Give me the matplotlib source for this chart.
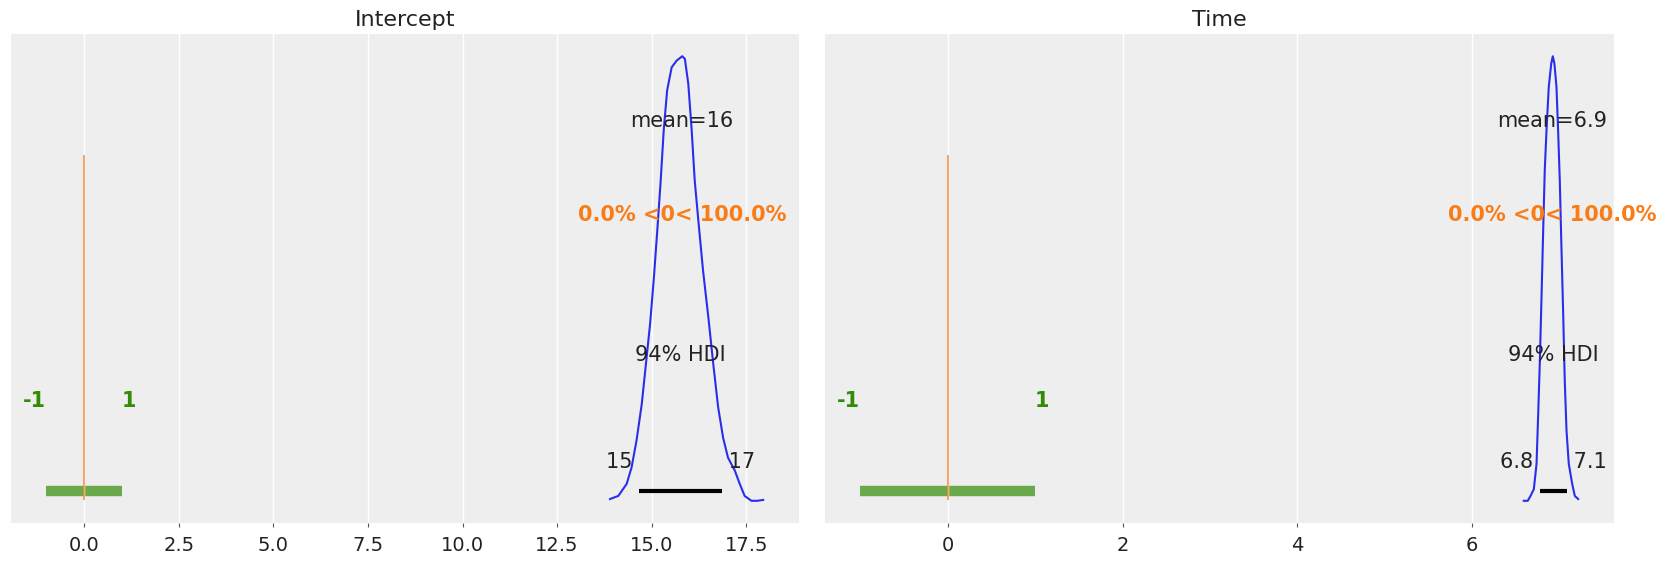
import matplotlib
matplotlib.use("Agg")
import matplotlib.pyplot as plt
import numpy as np

# posterior KDE (x value, density)
intercept_x = [13.90, 14.12, 14.34, 14.47, 14.60, 14.74, 14.85, 14.96, 15.06, 15.15,
               15.24, 15.32, 15.41, 15.53, 15.66, 15.81, 15.88, 15.97, 16.06, 16.14,
               16.26, 16.36, 16.50, 16.63, 16.76, 16.89, 17.02, 17.20, 17.33, 17.46,
               17.64, 17.80, 17.95]
intercept_rel = [0.004, 0.011, 0.038, 0.075, 0.135, 0.218, 0.308, 0.398, 0.502, 0.608,
                 0.720, 0.833, 0.923, 0.975, 0.990, 1.000, 0.994, 0.938, 0.833, 0.720,
                 0.608, 0.518, 0.413, 0.308, 0.210, 0.142, 0.097, 0.068, 0.038, 0.011,
                 0.000, 0.000, 0.002]
intercept_peak = 0.72

time_x = [6.591, 6.637, 6.668, 6.706, 6.737, 6.756, 6.774, 6.794, 6.813, 6.831,
          6.851, 6.877, 6.905, 6.923, 6.942, 6.965, 6.984, 7.003, 7.022, 7.042,
          7.060, 7.080, 7.106, 7.145, 7.175, 7.213]
time_rel = [0.000, 0.000, 0.011, 0.026, 0.083, 0.195, 0.308, 0.458, 0.608, 0.743,
            0.833, 0.931, 0.983, 1.000, 0.983, 0.931, 0.833, 0.720, 0.570, 0.420,
            0.270, 0.158, 0.083, 0.038, 0.011, 0.004]
time_peak = 4.8

titles = ["Intercept", "Time"]
means = [15.8, 6.92]
mean_labels = ["mean=16", "mean=6.9"]
hdi_low = [14.67, 6.774]
hdi_high = [16.87, 7.080]
hdi_labels = [("15", "17"), ("6.8", "7.1")]
ref_val = 0
ref_text = "0.0% <0< 100.0%"
rope = (-1, 1)
xticks = [[0.0, 2.5, 5.0, 7.5, 10.0, 12.5, 15.0, 17.5], [0, 2, 4, 6]]
xticklabels = [["0.0", "2.5", "5.0", "7.5", "10.0", "12.5", "15.0", "17.5"],
               ["0", "2", "4", "6"]]

blue = "#2a2eec"
orange = "#fa7c17"
green = "#328c06"
text_color = "#222222"
lw = 1.5
label_size = 15

fig = plt.figure(figsize=(16.66, 5.63), dpi=100)
positions = [[0.0064, 0.071, 0.4732, 0.8686], [0.4949, 0.071, 0.4739, 0.8686]]

curves = [(intercept_x, np.array(intercept_rel) * intercept_peak),
          (time_x, np.array(time_rel) * time_peak)]

for i, pos in enumerate(positions):
    ax = fig.add_axes(pos)
    ax.set_facecolor("#eeeeee")
    for s in ax.spines.values():
        s.set_visible(False)
    xs, ys = curves[i]
    ax.plot(xs, ys, color=blue, lw=lw)
    H = ax.get_ylim()[1]

    # hdi
    ax.plot([hdi_low[i], hdi_high[i]], [H * 0.02, H * 0.02], lw=lw * 2, color="k",
            solid_capstyle="butt")
    ax.text(hdi_low[i], H * 0.07, hdi_labels[i][0] + " ", size=label_size, ha="right",
            color=text_color)
    ax.text(hdi_high[i], H * 0.07, " " + hdi_labels[i][1], size=label_size, ha="left",
            color=text_color)
    ax.text((hdi_low[i] + hdi_high[i]) / 2, H * 0.3, "94% HDI", size=label_size,
            ha="center", color=text_color)

    # point estimate
    ax.text(means[i], H * 0.8, mean_labels[i], size=label_size, ha="center",
            color=text_color)

    # reference value
    ax.axvline(ref_val, ymin=0.05, ymax=0.75, lw=lw, alpha=0.65, color=orange)
    ax.text(means[i], H * 0.6, ref_text, size=label_size, weight="semibold",
            ha="center", color=orange)

    # rope
    ax.plot(rope, (H * 0.02, H * 0.02), lw=lw * 5, color=green, alpha=0.7,
            solid_capstyle="butt", zorder=0)
    ax.text(rope[0], H * 0.2, f"{rope[0]:.3g}", size=label_size, weight="semibold",
            ha="right", color=green)
    ax.text(rope[1], H * 0.2, f"{rope[1]:.3g}", size=label_size, weight="semibold",
            ha="left", color=green)

    ax.set_yticks([])
    ax.set_xticks(xticks[i], labels=xticklabels[i])
    ax.tick_params(axis="x", labelsize=14, colors="#555555", labelcolor=text_color,
                   length=3, width=0.8, pad=6)
    ax.grid(axis="x", color="white", lw=1)
    ax.set_axisbelow(True)
    ax.set_title(titles[i], fontsize=16, color=text_color)

fig.savefig("out.png", dpi=100)
